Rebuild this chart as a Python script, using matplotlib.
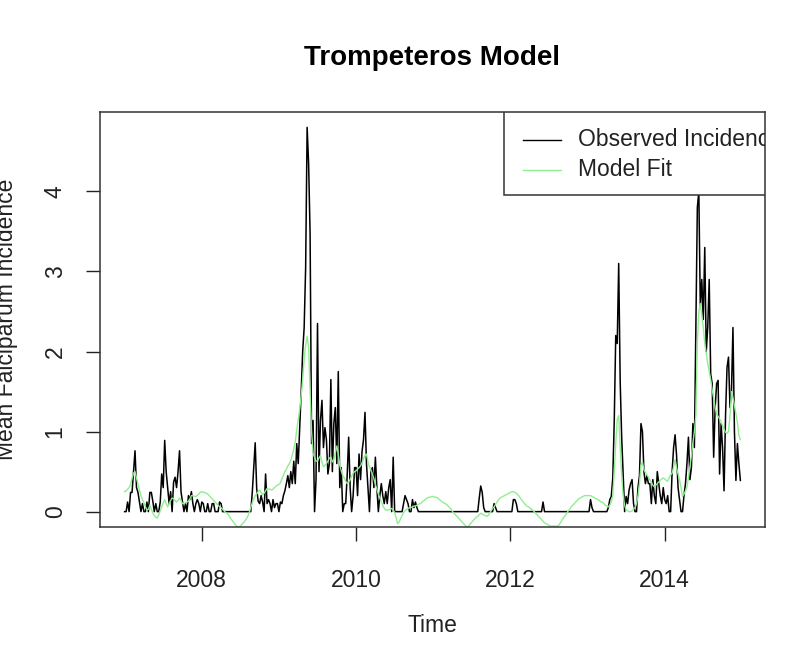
import numpy as np
import matplotlib
matplotlib.use("Agg")
import matplotlib.pyplot as plt
from matplotlib.patches import Rectangle

plt.rcParams['font.family'] = ['Liberation Sans', 'DejaVu Sans']

# weekly series, one list per year (52 weeks each)
obs_2007 = [0, 0, 0.12, 0, 0.24, 0.24, 0.51, 0.76, 0.3, 0.24, 0.12, 0, 0.1, 0, 0, 0.12, 0, 0.24,
            0.24, 0.13, 0, 0.1, 0, 0, 0.12, 0.47, 0.3, 0.89, 0.5, 0.3, 0.1, 0.25, 0, 0.37, 0.43, 0.3,
            0.5, 0.76, 0.25, 0.12, 0, 0.1, 0, 0.2, 0.15, 0.25, 0.1, 0, 0.1, 0.15, 0.1, 0]
obs_2008 = [0.12, 0.1, 0, 0, 0.1, 0, 0, 0.1, 0.1, 0, 0, 0, 0.12, 0.1] + [0.0] * 20 + \
           [0.23, 0.55, 0.86, 0.29, 0.13, 0.1, 0.2, 0.12, 0, 0.47, 0.1, 0.15, 0.1, 0, 0.15, 0.05, 0.1, 0.1]
obs_2009 = [0, 0.12, 0.1, 0.2, 0.26, 0.35, 0.45, 0.3, 0.5, 0.35, 0.63, 0.35, 0.85, 0.6, 1.05, 1.5, 2.0,
            2.3, 3.05, 4.8, 4.35, 3.47, 0.85, 1.14, 0.0, 0.4, 2.35, 0.5, 1.14, 1.39, 0.8, 1.05, 0.9,
            0.47, 0.6, 1.65, 0.5, 1.1, 1.3, 0.6, 1.75, 0.3, 0.55, 0.0, 0.1, 0.1, 0.45, 0.93, 0.3, 0.0,
            0.2, 0.55]
obs_2010 = [0.55, 0.2, 0.72, 0.4, 0.75, 0.9, 1.24, 0.6, 0.3, 0.0, 0.5, 0.55, 0.3, 0.68, 0.3, 0.0, 0.2,
            0.35, 0.2, 0.1, 0.25, 0.1, 0.3, 0.4, 0.0, 0.68, 0.0, 0, 0, 0, 0, 0, 0.1, 0.2, 0.15, 0.1, 0,
            0, 0.15, 0.05, 0.12, 0.05] + [0.0] * 10
obs_2011 = [0.0] * 31 + [0.17, 0.32, 0.24, 0.05] + [0.0] * 6 + [0.1, 0.05] + [0.0] * 9
obs_2012 = [0.0] * 2 + [0.15, 0.15, 0.1] + [0.0] * 17 + [0.12] + [0.0] * 29
obs_2013 = [0, 0, 0.15, 0.05] + [0.0] * 10 + \
           [0.05, 0.15, 0.19, 0.42, 1.14, 2.2, 2.1, 3.1, 1.62, 0.93, 0.45, 0.0, 0.19, 0.1, 0.27, 0.35,
            0.4, 0.1, 0.0, 0.0, 0.3, 0.45, 1.1, 1.0, 0.5, 0.35, 0.45, 0.35, 0.35, 0.1, 0.4, 0.2, 0.1,
            0.5, 0.35, 0.2, 0.1, 0.3]
obs_2014 = [0.15, 0.1, 0.2, 0.0, 0.0, 0.5, 0.8, 0.96, 0.7, 0.3, 0.15, 0.0, 0.0, 0.2, 0.35, 0.6, 0.93,
            0.4, 0.55, 1.1, 0.8, 2.35, 3.8, 4.0, 2.55, 2.9, 2.4, 3.3, 2.0, 2.3, 2.9, 1.72, 1.6, 0.68,
            1.3, 1.6, 1.64, 0.47, 1.1, 0.8, 0.26, 1.2, 1.8, 1.93, 1.3, 1.5, 2.3, 1.0, 0.39, 0.85, 0.6,
            0.39]

fit_2007 = [0.25, 0.26, 0.28, 0.3, 0.34, 0.42, 0.48, 0.5, 0.42, 0.34, 0.27, 0.2, 0.15, 0.11, 0.06,
            0.02, 0.03, 0.08, 0.03, -0.02, -0.05, -0.07, -0.08, -0.04, 0.01, 0.06, 0.11, 0.15, 0.1,
            0.06, 0.1, 0.14, 0.17, 0.16, 0.14, 0.12, 0.14, 0.17, 0.14, 0.1, 0.1, 0.11, 0.12, 0.13,
            0.16, 0.2, 0.2, 0.19, 0.19, 0.2, 0.22, 0.24]
fit_2008 = [0.25, 0.24, 0.24, 0.23, 0.22, 0.2, 0.18, 0.16, 0.14, 0.12, 0.1, 0.08, 0.06, 0.05, 0.03,
            0.01, -0.01, -0.02, -0.04, -0.07, -0.1, -0.12, -0.15, -0.17, -0.19, -0.19, -0.18, -0.16,
            -0.14, -0.12, -0.09, -0.06, -0.01, 0.05, 0.11, 0.16, 0.2, 0.22, 0.25, 0.27, 0.24, 0.21,
            0.23, 0.26, 0.29, 0.28, 0.28, 0.27, 0.28, 0.3, 0.32, 0.33]
fit_2009 = [0.34, 0.36, 0.41, 0.45, 0.5, 0.53, 0.57, 0.6, 0.64, 0.71, 0.78, 0.87, 1.02, 1.15, 1.28,
            1.45, 1.65, 1.9, 2.08, 2.19, 2.05, 1.5, 1.0, 0.73, 0.68, 0.63, 0.63, 0.67, 0.7, 0.62, 0.56,
            0.58, 0.6, 0.63, 0.67, 0.68, 0.62, 0.65, 0.73, 0.82, 0.72, 0.58, 0.51, 0.45, 0.42, 0.38,
            0.35, 0.37, 0.4, 0.44, 0.48, 0.5]
fit_2010 = [0.51, 0.53, 0.55, 0.57, 0.61, 0.66, 0.7, 0.72, 0.62, 0.56, 0.52, 0.47, 0.41, 0.34, 0.28,
            0.22, 0.17, 0.12, 0.08, 0.04, 0.02, 0.02, 0.02, 0.03, 0.04, 0.02, -0.01, -0.08, -0.15,
            -0.13, -0.09, -0.05, -0.01, 0.01, 0.03, 0.04, 0.05, 0.05, 0.06, 0.07, 0.07, 0.08, 0.09,
            0.1, 0.11, 0.13, 0.14, 0.16, 0.17, 0.18, 0.18, 0.19]
fit_2011 = [0.19, 0.18, 0.18, 0.17, 0.15, 0.14, 0.12, 0.11, 0.1, 0.09, 0.07, 0.05, 0.03, 0.0, -0.02,
            -0.04, -0.06, -0.08, -0.1, -0.12, -0.14, -0.16, -0.18, -0.19, -0.18, -0.15, -0.13, -0.11,
            -0.09, -0.07, -0.06, -0.04, -0.02, -0.03, -0.04, -0.05, -0.06, -0.05, -0.02, 0.01, 0.04,
            0.06, 0.09, 0.12, 0.15, 0.17, 0.18, 0.19, 0.2, 0.21, 0.22, 0.23]
fit_2012 = [0.24, 0.25, 0.25, 0.24, 0.23, 0.21, 0.19, 0.16, 0.14, 0.11, 0.09, 0.07, 0.06, 0.05, 0.03,
            0.02, 0.0, -0.02, -0.04, -0.06, -0.08, -0.1, -0.12, -0.14, -0.15, -0.16, -0.17, -0.18,
            -0.18, -0.18, -0.18, -0.18, -0.18, -0.16, -0.13, -0.1, -0.07, -0.05, -0.02, 0.01, 0.03,
            0.06, 0.08, 0.1, 0.12, 0.14, 0.16, 0.17, 0.18, 0.19, 0.2, 0.2]
fit_2013 = [0.2, 0.2, 0.2, 0.19, 0.18, 0.17, 0.16, 0.15, 0.14, 0.12, 0.12, 0.1, 0.08, 0.07, 0.06, 0.08,
            0.12, 0.2, 0.5, 0.85, 1.15, 1.2, 0.8, 0.45, 0.2, 0.08, 0.02, 0.01, 0.0, 0.0, 0.01, 0.03,
            0.05, 0.1, 0.2, 0.35, 0.58, 0.62, 0.52, 0.49, 0.46, 0.43, 0.4, 0.37, 0.33, 0.31, 0.33,
            0.35, 0.37, 0.39, 0.41, 0.42]
fit_2014 = [0.41, 0.39, 0.38, 0.42, 0.46, 0.48, 0.56, 0.65, 0.55, 0.47, 0.4, 0.3, 0.19, 0.22, 0.26,
            0.31, 0.42, 0.56, 0.7, 0.86, 1.0, 1.2, 2.1, 2.5, 2.6, 2.45, 2.3, 2.1, 1.98, 1.85, 1.75,
            1.65, 1.52, 1.42, 1.3, 1.22, 1.19, 1.16, 1.12, 1.07, 1.03, 0.99, 0.98, 1.0, 1.2, 1.5, 1.42,
            1.33, 1.22, 1.12, 0.95, 0.9]

observed = np.array(obs_2007 + obs_2008 + obs_2009 + obs_2010 +
                    obs_2011 + obs_2012 + obs_2013 + obs_2014)
model_fit = np.array(fit_2007 + fit_2008 + fit_2009 + fit_2010 +
                     fit_2011 + fit_2012 + fit_2013 + fit_2014)
start_year = 2007
weeks_per_year = 52
time = start_year + np.arange(len(observed)) / weeks_per_year

x_ticks = [2008, 2010, 2012, 2014]
y_ticks = [0, 1, 2, 3, 4]
legend_labels = ["Observed Incidence", "Model Fit"]
fit_color = "#90EE90"

W, H = 801, 655
fig = plt.figure(figsize=(W / 100, H / 100), dpi=100)
ax = fig.add_axes([100 / W, 1 - 527 / H, 665 / W, 415 / H])

ax.plot(time, observed, color="black", lw=1.1)
ax.plot(time, model_fit, color=fit_color, lw=1.0)

# R-style 4% padding around the observed series
def padded(lo, hi, frac=0.04):
    r = hi - lo
    return lo - frac * r, hi + frac * r

ax.set_xlim(*padded(time.min(), time.max()))
ax.set_ylim(*padded(min(0, observed.min()), observed.max()))

ax.set_xticks(x_ticks)
ax.set_yticks(y_ticks)
ax.set_yticklabels([str(v) for v in y_ticks], rotation=90, va="center")
ax.tick_params(axis="both", direction="out", length=10, width=1, labelsize=16.5, colors="#222222")
ax.tick_params(axis="x", pad=20)
ax.tick_params(axis="y", pad=14)
for s in ax.spines.values():
    s.set_linewidth(1.1)
    s.set_color("#333333")

# legend box, top right, clipped by the plot region
ax.add_patch(Rectangle((0.6075, 0.8), 0.3925, 0.2, transform=ax.transAxes,
                       facecolor="white", edgecolor="#333333", lw=1.1, zorder=3))
for row, (label, col) in enumerate(zip(legend_labels, ["black", fit_color])):
    yy = 1 - (28 + 30 * row) / 415
    ax.plot([(523 - 100) / 665, (561 - 100) / 665], [yy, yy], transform=ax.transAxes,
            color=col, lw=1.0, zorder=4)
    ax.text((578 - 100) / 665, yy, label, transform=ax.transAxes, fontsize=16.5,
            va="center", ha="left", color="#222222", clip_on=True, zorder=4)

fig.text(432 / W, 1 - 58 / H, "Trompeteros Model", ha="center", va="center",
         fontsize=20, fontweight="bold")
fig.text(432 / W, 1 - 625 / H, "Time", ha="center", va="center", fontsize=16.5, color="#222222")
fig.text(18.5 / W, 1 - 319.5 / H, "Mean Falciparum Incidence", rotation=90, ha="right",
         va="center", fontsize=16.5, color="#222222")

fig.savefig("out.png", dpi=100)
